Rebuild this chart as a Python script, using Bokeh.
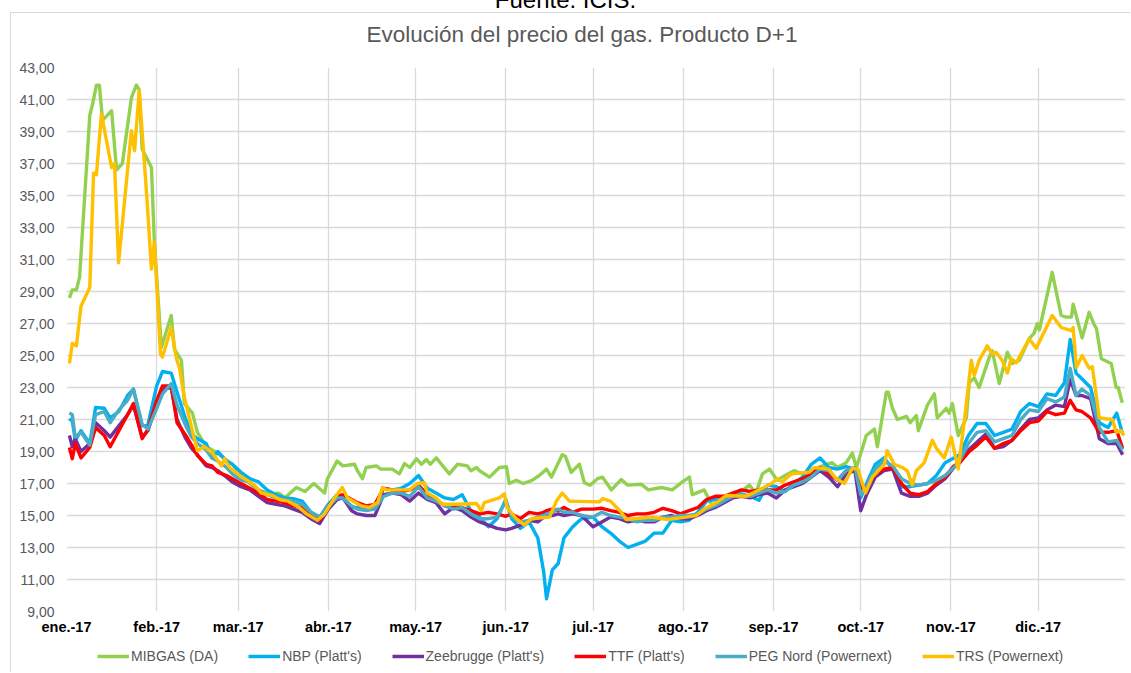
from bokeh.plotting import figure
from bokeh.models import Range1d, FixedTicker, Legend, LegendItem, Div
from bokeh.layouts import column
from bokeh.embed import file_html
from bokeh.resources import INLINE

# ---------------- data ----------------
MONTH_DAYS = [0, 31, 59, 90, 120, 151, 181, 212, 243, 273, 304, 334]
MONTH_LABELS = ["ene.-17", "feb.-17", "mar.-17", "abr.-17", "may.-17", "jun.-17",
                "jul.-17", "ago.-17", "sep.-17", "oct.-17", "nov.-17", "dic.-17"]
Y_TICKS = list(range(9, 44, 2))

TITLE = "Evolución del precio del gas. Producto D+1"
SOURCE = "Fuente: ICIS."
SERIES_NAMES = ["MIBGAS (DA)", "NBP (Platt's)", "Zeebrugge (Platt's)", "TTF (Platt's)",
                "PEG Nord (Powernext)", "TRS (Powernext)"]

# day of year 2017 (0 = 1 Jan)
MIB_DAYS = [1, 2, 3.4, 4.5, 8, 9, 10.3, 11.3, 12.4, 15.5, 17.2, 19.2, 22.3, 24, 25, 26, 29.2, 30.2, 32.6, 36,
            37.1, 39.5, 40.5, 43.3, 45, 46.7, 48, 51, 54, 57, 60, 63, 66, 70, 73, 75, 79, 82, 85, 88.7,
            89.7, 93, 95, 99, 100, 101.7, 103, 106.5, 108, 112, 114.4, 116.2, 118, 120.3, 122, 123.7, 125,
            127.1, 128.9, 131.6, 134.4, 137.8, 139, 140.9, 142, 145.4, 148.8, 151.2, 152.2, 154.6, 157,
            160, 162.5, 165, 166.7, 170.4, 171.5, 173.5, 176.3, 178, 180, 182.5, 184.2, 187.3, 190.7,
            192.8, 197.6, 200, 204.5, 208.2, 211.7, 214.1, 215.1, 219.2, 222, 225.1, 227.8, 232.3, 234.7,
            237, 239.2, 241.6, 244.3, 247, 250, 253, 257, 261.2, 263.2, 265, 268, 270.1, 271.5, 274.9,
            277.7, 278.7, 281.8, 282.5, 283.8, 285.6, 288.7, 290, 292.1, 292.8, 295.9, 298.3, 299.3,
            302.4, 303.4, 304.5, 306.5, 309.3, 310.3, 312, 313.7, 317.2, 318.2, 320.6, 323.4, 325.1,
            327.5, 330.9, 332.6, 333.7, 334.4, 338.8, 341.9, 343.6, 345.4, 346, 349.1, 351.5, 353.3,
            354, 355.7, 359.1, 360.8, 361.5, 362.9]
MIB_VALS = [28.6, 29.1, 29.1, 29.9, 40.0, 40.75, 41.9, 41.9, 39.7, 40.3, 36.6, 37.0, 41.1, 41.9, 41.6, 37.9, 36.75, 32.1, 25.5, 27.5,
            25.4, 24.7, 22.0, 21.4, 20.2, 19.7, 19.3, 19.0, 18.6, 18.2, 17.5, 17.0, 16.6, 16.3, 16.4, 16.1, 16.75, 16.5, 17.0, 16.4,
            17.3, 18.4, 18.1, 18.2, 17.8, 17.3, 18.0, 18.1, 17.9, 17.9, 17.6, 18.25, 18.0, 18.55, 18.2, 18.5, 18.2,
            18.6, 18.2, 17.6, 18.2, 18.1, 17.8, 18.0, 17.8, 17.4, 18.0, 18.05, 17.0, 17.2, 17.0,
            17.2, 17.5, 17.9, 17.4, 18.8, 18.7, 17.7, 18.2, 17.05, 16.9, 17.3, 17.4, 16.6, 17.25,
            16.9, 16.95, 16.6, 16.75, 16.6, 17.1, 17.4, 16.3, 16.6, 15.6, 16.05, 16.2, 16.55, 16.9,
            16.4, 17.6, 17.9, 17.2, 17.5, 17.8, 17.6, 17.9, 18.2, 18.3, 18.0, 18.3, 18.9, 18.0, 20.0,
            20.4, 19.3, 22.7, 22.7, 21.75, 21.0, 21.2, 20.8, 21.25, 20.3, 21.9, 22.6, 21.1,
            21.7, 21.4, 22.0, 20.0, 21.1, 23.3, 23.6, 23.0, 24.9, 25.3, 23.25, 25.2, 24.5,
            24.7, 26.05, 26.4, 27.0, 26.6, 30.2, 27.5, 27.4, 27.4, 28.2, 26.1, 27.7, 26.9,
            26.7, 24.8, 24.5, 23.0, 23.0, 22.05]

TRS_DAYS = [1, 2, 3.4, 5, 8, 9.3, 10.3, 12, 15.5, 16.5, 17.9, 22.3, 23.4, 25, 27.5, 29.2, 30.2, 32.3, 33, 36,
            37.8, 38.8, 40.5, 43, 45, 47.4, 50.2, 53.3, 54.3, 56, 59.5, 64.6, 67, 70.8, 73.2, 76, 80, 82.5,
            86.3, 88.7, 92.1, 94.8, 96.6, 101.4, 104.1, 106.9, 108.6, 110, 114, 117.9, 120.6, 123, 124,
            127.1, 129.2, 134, 140.9, 142.6, 143.6, 148.8, 150.5, 151.5, 154.6, 157.4, 159.8, 166, 168.4,
            170.4, 172.9, 183.2, 184.2, 187, 190.7, 192.4, 201, 206.5, 213, 216.5, 219.2, 223.4, 226.8,
            233.7, 242.3, 244.3, 246, 249.1, 255.3, 257, 262, 264.6, 267.4, 270.1, 272, 274.6, 277,
            281.1, 282.1, 284.5, 287.3, 289, 290.7, 292.1, 294.8, 297.6, 299, 301.7, 304.1, 306.5,
            308.6, 311, 312, 313.7, 316.5, 318.2, 319.5, 321.6, 323.4, 324.7, 326.5, 330.9, 333.3,
            338.8, 341.9, 345.4, 346, 347.1, 349.1, 351.5, 352.6, 355, 359.5, 360.8, 362.5, 363.5]
TRS_VALS = [24.5, 25.75, 25.6, 28.1, 29.25, 36.4, 36.3, 40.1, 36.75, 37.0, 30.8, 39.05, 37.8, 41.55, 35.2, 30.4, 32.1, 25.1, 24.9, 26.75,
            24.8, 24.25, 22.4, 20.5, 19.05, 19.3, 18.9, 18.1, 18.55, 18.0, 17.5, 16.9, 16.4, 16.25, 16.0, 15.9, 15.5, 15.1,
            14.7, 15.1, 16.1, 16.75, 16.1, 15.6, 15.5, 15.8, 16.75, 16.6, 16.6, 16.6, 17.0, 17.05, 16.4,
            16.1, 15.7, 15.7, 15.75, 15.3, 15.8, 16.1, 16.35, 15.5, 14.8, 14.4, 14.8, 14.9, 15.9,
            16.4, 15.9, 15.85, 16.05, 15.9, 15.2, 14.75, 14.9, 14.75, 14.9, 15.0, 15.4, 15.8, 16.25,
            16.2, 17.0, 17.3, 17.1, 17.6, 17.7, 18.0, 17.9, 17.3, 17.0, 17.95, 17.9, 16.4, 17.4,
            18.2, 19.05, 18.2, 18.0, 17.8, 16.9, 17.8, 18.3, 19.7, 19.2, 18.6, 19.9, 17.9,
            20.9, 24.7, 23.75, 24.7, 25.6, 25.1, 25.2, 24.7, 23.9, 24.8, 24.55, 26.05, 25.45,
            27.5, 26.75, 26.55, 26.75, 24.25, 25.0, 24.2, 24.3, 21.1, 21.0, 20.2, 20.3, 20.0]

# common day grid for the four hub series
HUB_DAYS = [1, 2, 3, 5, 8, 10, 13, 15, 18, 21, 23, 26, 28, 31, 33, 36, 38, 41, 43, 45, 48, 50, 52, 55, 57,
            60, 63, 66, 69, 72, 75, 78, 81, 84, 87, 90, 93, 95, 98, 100, 103, 106, 109, 112, 115, 118,
            121, 124, 127, 130, 133, 136, 139, 142, 145, 148, 151, 153, 156, 159, 162, 164, 165, 167, 169, 171, 174, 177,
            181, 184, 187, 190, 193, 196, 199, 202, 205, 208, 211, 214, 217, 220, 223, 226, 229, 232, 235, 238, 241,
            244, 247, 250, 253, 256, 259, 262, 265, 268, 271, 273, 275, 278, 281, 284, 287, 290, 293, 296, 299, 302,
            305, 307, 310, 313, 316, 319, 322, 325, 328, 331, 334, 337, 340, 343, 345, 347, 349, 352, 355, 358, 361, 363]

NBP_VALS = [21.05, 20.9, 19.7, 20.3, 19.5, 21.75, 21.7, 21.1, 21.5, 22.5, 22.9, 20.6, 20.7, 23.1, 24.0, 23.9, 22.7, 21.0, 20.1, 19.8, 19.5, 18.6, 19.0, 18.4, 18.2,
            17.7, 17.3, 17.1, 16.6, 16.3, 16.1, 16.05, 15.9, 15.2, 14.9, 15.7, 16.3, 16.1, 15.5, 15.5, 15.5, 15.6, 16.7, 16.6, 16.7, 17.0,
            17.5, 16.7, 16.4, 16.1, 16.0, 16.3, 15.3, 14.9, 14.3, 14.8, 16.0, 14.8, 14.2, 14.6, 13.6, 11.5, 9.8, 11.6, 12.0, 13.6, 14.3, 14.8,
            14.9, 14.3, 13.9, 13.4, 13.0, 13.2, 13.4, 13.9, 13.9, 14.7, 14.6, 14.7, 15.2, 15.9, 16.0, 16.1, 16.2, 16.35, 16.2, 15.95, 16.9,
            16.8, 16.5, 17.0, 17.4, 18.2, 18.6, 18.0, 17.9, 18.05, 17.9, 16.1, 17.0, 18.2, 18.6, 17.9, 16.8, 16.8, 16.9, 17.0, 17.5, 18.3,
            18.6, 18.8, 20.0, 20.75, 20.75, 20.0, 20.2, 20.4, 21.5, 22.0, 21.8, 22.6, 22.5, 23.3, 26.0, 23.9, 23.55, 23.0, 20.8, 20.5, 21.4, 20.1]

ZEE_VALS = [20.0, 19.3, 19.8, 19.0, 19.5, 20.8, 20.3, 19.9, 20.6, 21.3, 21.9, 19.9, 20.3, 22.0, 22.9, 23.0, 21.0, 19.8, 19.2, 18.8, 18.1, 18.0, 17.8, 17.4, 17.1,
            16.8, 16.6, 16.2, 15.8, 15.7, 15.6, 15.4, 15.2, 14.8, 14.5, 15.4, 16.0, 16.1, 15.3, 15.1, 15.0, 15.0, 16.3, 16.4, 16.3, 15.9,
            16.4, 16.0, 15.8, 15.1, 15.5, 15.3, 14.9, 14.6, 14.4, 14.2, 14.1, 14.2, 14.4, 14.7, 14.6, 14.9, 15.0, 15.0, 15.1, 15.0, 15.1, 15.0,
            14.3, 14.6, 14.9, 14.8, 14.6, 14.7, 14.6, 14.6, 14.9, 15.0, 14.8, 14.8, 15.0, 15.3, 15.5, 15.8, 16.1, 16.2, 16.1, 16.3, 16.4,
            16.1, 16.6, 16.8, 17.0, 17.4, 17.8, 17.4, 16.8, 17.6, 17.8, 15.3, 16.3, 17.4, 17.8, 17.9, 16.4, 16.2, 16.2, 16.4, 16.9, 17.3,
            18.0, 18.3, 19.1, 19.6, 20.1, 19.2, 19.3, 19.7, 20.4, 21.0, 21.1, 21.6, 21.9, 21.8, 23.5, 22.5, 22.5, 22.3, 19.8, 19.5, 19.5, 18.8]

TTF_VALS = [19.25, 18.55, 19.5, 18.6, 19.25, 20.5, 20.0, 19.3, 20.3, 21.3, 22.0, 19.8, 20.4, 22.2, 23.1, 23.1, 20.8, 20.0, 19.4, 18.75, 18.2, 18.1, 17.7, 17.5, 17.3,
            17.0, 16.7, 16.4, 16.0, 15.9, 15.8, 15.6, 15.5, 15.0, 14.7, 15.6, 16.2, 16.3, 16.0, 15.8, 15.6, 15.7, 16.7, 16.6, 16.5, 16.6,
            16.9, 16.3, 16.0, 15.6, 15.6, 15.5, 15.3, 15.1, 15.2, 15.1, 14.95, 15.1, 14.8, 15.2, 15.1, 15.2, 15.3, 15.4, 15.3, 15.5, 15.2, 15.4,
            15.4, 15.45, 15.3, 15.2, 15.0, 15.1, 15.1, 15.2, 15.45, 15.3, 15.1, 15.3, 15.5, 16.0, 16.2, 16.2, 16.4, 16.6, 16.5, 16.6, 16.6,
            16.6, 16.9, 17.1, 17.3, 17.6, 18.0, 17.6, 17.2, 17.8, 17.9, 16.7, 16.8, 17.6, 17.9, 18.0, 17.0, 16.4, 16.3, 16.5, 17.0, 17.4,
            18.1, 18.3, 18.95, 19.4, 19.9, 19.2, 19.5, 19.7, 20.3, 20.8, 20.9, 21.5, 21.3, 21.4, 22.2, 21.6, 21.5, 21.1, 20.2, 20.2, 20.3, 19.2]

PEG_VALS = [21.4, 21.3, 19.9, 20.2, 19.4, 21.3, 21.5, 20.8, 21.6, 22.2, 22.9, 20.7, 20.4, 21.7, 22.6, 23.25, 21.9, 20.6, 19.9, 19.5, 19.1, 18.6, 18.4, 18.0, 17.6,
            17.2, 17.1, 16.6, 16.3, 16.1, 16.0, 15.9, 15.7, 15.2, 14.9, 15.6, 16.1, 16.1, 15.6, 15.4, 15.3, 15.4, 16.2, 16.4, 16.4, 16.2,
            16.8, 16.1, 15.9, 15.6, 15.4, 15.5, 15.1, 14.8, 14.8, 14.9, 15.9, 14.9, 14.6, 14.7, 14.9, 15.0, 15.1, 15.2, 15.4, 15.2, 15.2, 15.0,
            14.9, 15.2, 15.0, 14.9, 14.8, 14.6, 14.7, 14.7, 14.9, 14.9, 15.0, 15.0, 15.1, 15.4, 15.6, 15.9, 16.2, 16.3, 16.2, 16.4, 16.6,
            16.4, 16.5, 16.9, 17.1, 17.4, 17.9, 17.8, 17.2, 17.8, 18.0, 16.3, 16.8, 17.9, 18.4, 18.1, 17.3, 17.0, 16.9, 17.0, 17.2, 17.5,
            18.0, 18.4, 19.5, 20.2, 20.3, 19.6, 19.8, 20.0, 21.0, 21.6, 21.5, 22.3, 22.1, 22.4, 24.2, 22.5, 22.9, 22.5, 20.5, 19.6, 19.7, 19.1]

COLORS = ["#92D050", "#00B0F0", "#7030A0", "#FF0000", "#4BACC6", "#FFC000"]

# ---------------- main figure ----------------
FONT = "Liberation Sans"
p = figure(width=1120, height=628, x_range=Range1d(0, 364), y_range=Range1d(9, 43),
           output_backend="svg", toolbar_location=None,
           min_border_left=55, min_border_right=6, min_border_top=54, min_border_bottom=30)
p.margin = (0, 0, 0, 10)
p.styles = {"border-left": "1px solid #D9D9D9", "border-top": "1px solid #D9D9D9"}
p.outline_line_color = None
p.background_fill_color = "white"
p.border_fill_color = "white"

p.xaxis.ticker = FixedTicker(ticks=MONTH_DAYS)
p.xaxis.major_label_overrides = {d: l for d, l in zip(MONTH_DAYS, MONTH_LABELS)}
p.xaxis.axis_line_color = None
p.xaxis.major_tick_line_color = None
p.xaxis.minor_tick_line_color = None
p.xaxis.major_tick_out = 0
p.xaxis.major_tick_in = 0
p.xaxis.major_label_text_font = FONT
p.xaxis.major_label_text_font_style = "bold"
p.xaxis.major_label_text_font_size = "14.5px"
p.xaxis.major_label_text_color = "black"
p.xaxis.major_label_standoff = 7

p.yaxis.ticker = FixedTicker(ticks=Y_TICKS)
p.yaxis.major_label_overrides = {v: f"{v:.2f}".replace(".", ",") for v in Y_TICKS}
p.yaxis.axis_line_color = None
p.yaxis.major_tick_line_color = None
p.yaxis.minor_tick_line_color = None
p.yaxis.major_tick_out = 0
p.yaxis.major_tick_in = 0
p.yaxis.major_label_text_font = FONT
p.yaxis.major_label_text_font_size = "14px"
p.yaxis.major_label_text_color = "#595959"
p.yaxis.major_label_standoff = 12

p.xgrid.ticker = FixedTicker(ticks=MONTH_DAYS)
p.ygrid.ticker = FixedTicker(ticks=Y_TICKS)
for g in (p.xgrid, p.ygrid):
    g.grid_line_color = "#D9D9D9"
    g.grid_line_width = 1.3

data = [(MIB_DAYS, MIB_VALS), (HUB_DAYS, NBP_VALS), (HUB_DAYS, ZEE_VALS),
        (HUB_DAYS, TTF_VALS), (HUB_DAYS, PEG_VALS), (TRS_DAYS, TRS_VALS)]
for (xs, ys), col in zip(data, COLORS):
    p.line(xs, ys, line_color=col, line_width=3.4, line_join="round")

# ---------------- legend strip (own small figure under the chart) ----------------
# the same series are attached here only so that the legend has renderers to sample;
# this strip's ranges lie outside the data, so nothing but the legend shows
lg = figure(width=1120, height=32, x_range=Range1d(-2, -1), y_range=Range1d(0, 1),
            output_backend="svg", toolbar_location=None, min_border=0)
lg.margin = (0, 0, 0, 10)
lg.styles = {"border-left": "1px solid #D9D9D9"}
lg.axis.visible = False
lg.grid.visible = False
lg.outline_line_color = None
lg.background_fill_color = "white"
lg.border_fill_color = "white"
items = []
for (xs, ys), name, col in zip(data, SERIES_NAMES, COLORS):
    r = lg.line(xs, ys, line_color=col, line_width=3.4)
    items.append(LegendItem(label=name, renderers=[r]))
legend = Legend(items=items, orientation="horizontal", location=(31, 6),
                glyph_width=32, glyph_height=20, label_standoff=2, spacing=30,
                padding=0, margin=0, border_line_color=None, background_fill_alpha=0,
                label_text_font=FONT, label_text_font_size="14px",
                label_text_color="#595959")
lg.add_layout(legend, "center")

# ---------------- header: source note (cut by the window top) and title ----------------
header = Div(
    text=(f'<div style="position:absolute; left:0; top:-13px; width:1131px; text-align:center; '
          f'font-family:\'Liberation Sans\'; font-size:24px; line-height:26px; color:#000; '
          f'white-space:nowrap;">{SOURCE}</div>'
          f'<div style="position:absolute; left:0; top:22px; width:1164px; text-align:center; '
          f'font-family:\'Liberation Sans\'; font-size:22.5px; line-height:26px; color:#595959; '
          f'white-space:nowrap;">{TITLE}</div>'),
    width=1131, height=12, margin=0,
    styles={"position": "relative", "z-index": "10", "overflow": "visible"})

layout = column(header, p, lg, spacing=0, margin=0)
open("out.html", "w").write(file_html(layout, INLINE))
